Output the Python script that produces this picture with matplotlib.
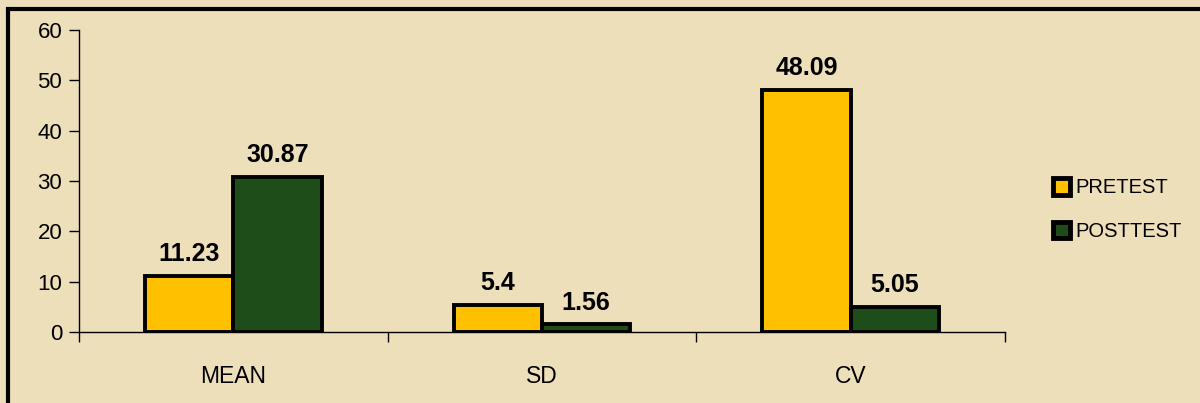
import matplotlib.pyplot as plt
from matplotlib.patches import Rectangle, Patch
import numpy as np

plt.rcParams['font.family'] = ['Liberation Sans', 'DejaVu Sans']

categories = ['MEAN', 'SD', 'CV']
pretest = [11.23, 5.4, 48.09]
posttest = [30.87, 1.56, 5.05]
series_names = ['PRETEST', 'POSTTEST']
yticks = [0, 10, 20, 30, 40, 50, 60]

bg = '#EEDFBB'
c_pre = '#FFC000'
c_post = '#1E4D1A'

fig = plt.figure(figsize=(12, 4.03), dpi=100, facecolor=bg)
ax = fig.add_axes([0.0658, 0.176, 0.7717, 0.7496])
ax.set_facecolor('none')

# frame around the whole chart (cut off at right / bottom)
fig.patches.append(Rectangle((8 / 1200, -0.05), 1.2, 1 - 9 / 403 + 0.05,
                             transform=fig.transFigure, fill=False,
                             edgecolor='black', linewidth=3))

x = np.arange(len(categories))
w = 0.286
b1 = ax.bar(x - w / 2, pretest, w, color=c_pre, edgecolor='black', linewidth=2.8, label=series_names[0])
b2 = ax.bar(x + w / 2, posttest, w, color=c_post, edgecolor='black', linewidth=2.8, label=series_names[1])

for bars, vals in [(b1, pretest), (b2, posttest)]:
    for r, v in zip(bars, vals):
        ax.text(r.get_x() + r.get_width() / 2, v + 1.9, str(v), ha='center', va='bottom',
                fontsize=18, fontweight='bold')

ax.set_xlim(-0.5, 2.5)
ax.set_ylim(0, 60)
ax.set_yticks(yticks)
ax.set_xticks([-0.5, 0.5, 1.5, 2.5], minor=False)
ax.set_xticklabels([])
ax.set_xticks(x, minor=True)
ax.set_xticklabels(categories, minor=True)
ax.tick_params(axis='x', which='minor', length=0, pad=24, labelsize=16.5)
ax.tick_params(axis='x', which='major', length=7, direction='out', width=1)
ax.tick_params(axis='y', length=7, direction='out', width=1, labelsize=16, pad=5)
for s in ['top', 'right']:
    ax.spines[s].set_visible(False)
ax.spines['left'].set_linewidth(1)
ax.spines['bottom'].set_linewidth(1)

handles = [Patch(facecolor=c_pre, edgecolor='black', linewidth=3.5),
           Patch(facecolor=c_post, edgecolor='black', linewidth=3.5)]
fig.legend(handles, series_names, loc='center left', bbox_to_anchor=(0.862, 0.48),
           frameon=False, fontsize=14.5, handlelength=0.85, handleheight=0.85,
           handletextpad=0.3, labelspacing=1.2)

fig.savefig('out.png', dpi=100, facecolor=bg)
